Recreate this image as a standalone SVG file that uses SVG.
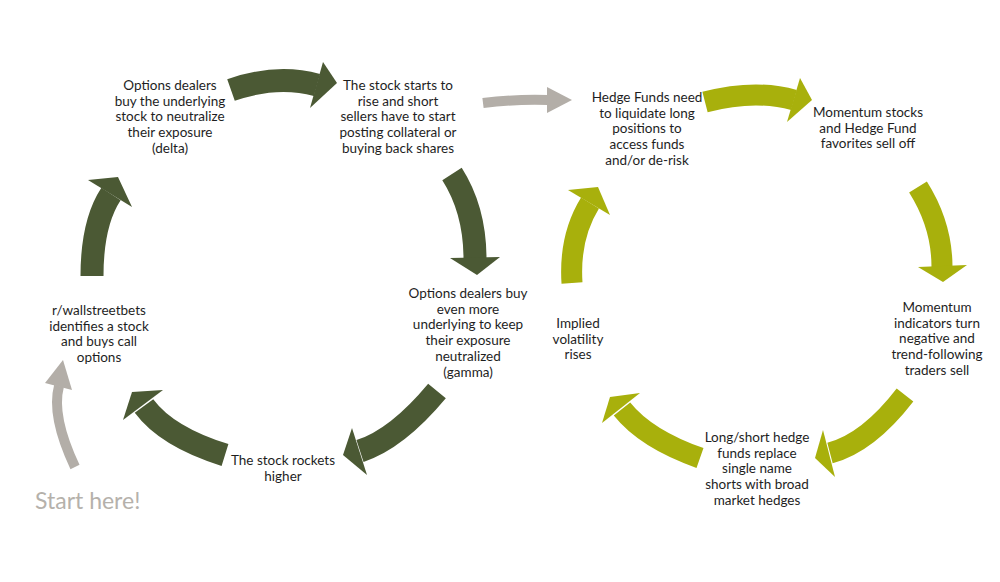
<svg xmlns="http://www.w3.org/2000/svg" width="1000" height="582" viewBox="0 0 1000 582">
<style>
.t{font-family:Lato,"Open Sans",sans-serif;font-size:13.5px;fill:#1e1e1e;text-anchor:middle}
.d{fill:none;stroke:#4b5934;stroke-width:23}
.dh{fill:#4b5934}
.g{fill:none;stroke:#a8b00c;stroke-width:21}
.gh{fill:#a8b00c}
.s{fill:none;stroke:#b3aea8;stroke-width:10}
.sh{fill:#b3aea8}
</style>
<rect width="1000" height="582" fill="#ffffff"/>
<g id="connectors">
  <!-- dark cycle -->
  <path class="d" d="M231,90 Q277,74 317,85"/>
  <polygon class="dh" points="323,62 337,83 310,108"/>
  <path class="d" d="M452,174 Q475,210 475,259"/>
  <polygon class="dh" points="450,258 500,257 477,275"/>
  <path class="d" d="M437,391 Q397,439 360,451"/>
  <polygon class="dh" points="352,428 343,455 367,475"/>
  <path class="d" d="M225,455 Q167,437 144,406"/>
  <polygon class="dh" points="132,392 163,390 123,420"/>
  <path class="d" d="M92,276 Q92,223 111,194"/>
  <polygon class="dh" points="88,180 118,177 132,207"/>
  <!-- lime cycle -->
  <path class="g" d="M705,102 Q755,89 794,100"/>
  <polygon class="gh" points="800,78 812,100 787,122"/>
  <path class="g" d="M918,187 Q942,225 942,267"/>
  <polygon class="gh" points="918,267 967,265 943,282"/>
  <path class="g" d="M905,395 Q868,443 830,453"/>
  <polygon class="gh" points="823,430 815,458 835,477"/>
  <path class="g" d="M700,458 Q646,439 622,409"/>
  <polygon class="gh" points="610,397 640,393 602,423"/>
  <path class="g" d="M572,283 Q569,237 590,203"/>
  <polygon class="gh" points="568,190 598,187 610,215"/>
  <!-- grey -->
  <path class="s" d="M483,103 Q515,99 548,100"/>
  <polygon class="sh" points="547,87 572,100 547,113"/>
  <path class="s" d="M75,467 Q51,416 59,386"/>
  <polygon class="sh" points="63,360 45,383 72,390"/>
</g>
<g id="n1"><text class="t" x="170" y="90">Options dealers<tspan x="170" dy="15.7">buy the underlying</tspan><tspan x="170" dy="15.7">stock to neutralize</tspan><tspan x="170" dy="15.7">their exposure</tspan><tspan x="170" dy="15.7">(delta)</tspan></text></g>
<g id="n2"><text class="t" x="398" y="90">The stock starts to<tspan x="398" dy="15.7">rise and short</tspan><tspan x="398" dy="15.7">sellers have to start</tspan><tspan x="398" dy="15.7">posting collateral or</tspan><tspan x="398" dy="15.7">buying back shares</tspan></text></g>
<g id="n3"><text class="t" x="647" y="102">Hedge Funds need<tspan x="647" dy="15.7">to liquidate long</tspan><tspan x="647" dy="15.7">positions to</tspan><tspan x="647" dy="15.7">access funds</tspan><tspan x="647" dy="15.7">and/or de-risk</tspan></text></g>
<g id="n4"><text class="t" x="868" y="117">Momentum stocks<tspan x="868" dy="15.7">and Hedge Fund</tspan><tspan x="868" dy="15.7">favorites sell off</tspan></text></g>
<g id="n5"><text class="t" x="937" y="312">Momentum<tspan x="937" dy="15.7">indicators turn</tspan><tspan x="937" dy="15.7">negative and</tspan><tspan x="937" dy="15.7">trend-following</tspan><tspan x="937" dy="15.7">traders sell</tspan></text></g>
<g id="n6"><text class="t" x="757" y="442">Long/short hedge<tspan x="757" dy="15.7">funds replace</tspan><tspan x="757" dy="15.7">single name</tspan><tspan x="757" dy="15.7">shorts with broad</tspan><tspan x="757" dy="15.7">market hedges</tspan></text></g>
<g id="n7"><text class="t" x="578" y="328">Implied<tspan x="578" dy="15.7">volatility</tspan><tspan x="578" dy="15.7">rises</tspan></text></g>
<g id="n8"><text class="t" x="468" y="298">Options dealers buy<tspan x="468" dy="15.7">even more</tspan><tspan x="468" dy="15.7">underlying to keep</tspan><tspan x="468" dy="15.7">their exposure</tspan><tspan x="468" dy="15.7">neutralized</tspan><tspan x="468" dy="15.7">(gamma)</tspan></text></g>
<g id="n9"><text class="t" x="283" y="465">The stock rockets<tspan x="283" dy="15.7">higher</tspan></text></g>
<g id="n10"><text class="t" x="99" y="315">r/wallstreetbets<tspan x="99" dy="15.7">identifies a stock</tspan><tspan x="99" dy="15.7">and buys call</tspan><tspan x="99" dy="15.7">options</tspan></text></g>
<g id="start"><text x="35" y="509" style="font-family:Lato,'Open Sans',sans-serif;font-size:23px;fill:#b5b1ab">Start here!</text></g>
</svg>
